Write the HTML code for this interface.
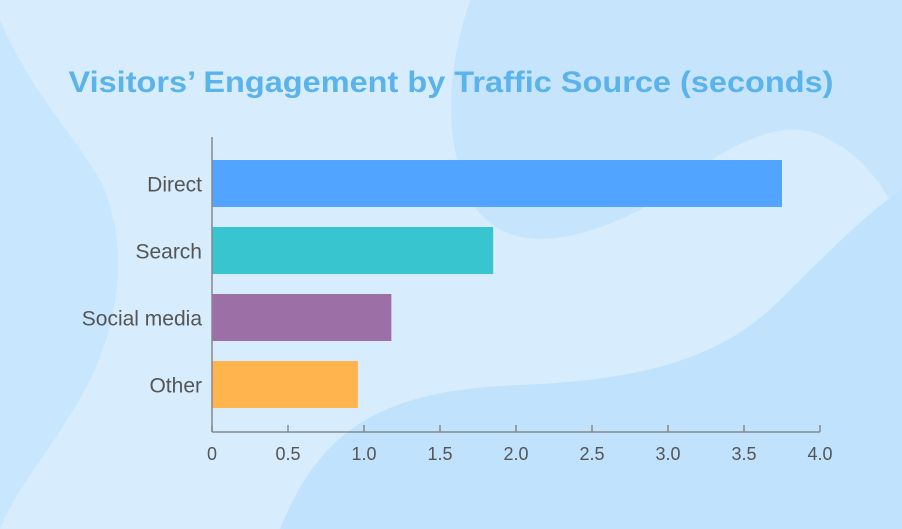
<!DOCTYPE html>
<html><head><meta charset="utf-8"><style>
html,body{margin:0;padding:0;width:902px;height:529px;overflow:hidden;background:#d7edfd}
svg{display:block;font-family:"Liberation Sans",sans-serif}
</style></head><body>
<svg id="chart" width="902" height="529" viewBox="0 0 902 529">
<g>
<path d="M0,20 C30,90 70,130 100,180 C130,240 120,320 90,380 C60,440 20,480 0,529 Z" fill="#c8e6fd"/>
<path d="M470,0 C450,60 440,130 470,200 C500,250 560,250 640,210 C720,150 780,110 830,140 C870,160 890,200 902,220 L902,0 Z" fill="#c6e5fd"/>
<path d="M280,529 C320,430 380,390 520,385 C640,380 720,360 780,300 C830,250 870,210 902,190 L902,529 Z" fill="#c0e2fd"/>
</g>
<text x="451" y="92" text-anchor="middle" font-size="30" font-weight="bold" fill="#5ab3ea" textLength="765" lengthAdjust="spacingAndGlyphs">Visitors’ Engagement by Traffic Source (seconds)</text>
<g id="plot"></g>
</svg>
<script>
const categories = ["Direct", "Search", "Social media", "Other"];
const values = [3.75, 1.85, 1.18, 0.96];
const colors = ["#51a4ff", "#38c5cf", "#9c70a6", "#ffb44d"];
const ticks = [0, 0.5, 1.0, 1.5, 2.0, 2.5, 3.0, 3.5, 4.0];
const tickLabels = ["0", "0.5", "1.0", "1.5", "2.0", "2.5", "3.0", "3.5", "4.0"];

const NS = "http://www.w3.org/2000/svg";
const plotG = document.getElementById("plot");
const x0 = 212, x1 = 820, axisY = 432, yTop = 137;
const xScale = v => x0 + (v / 4) * (x1 - x0);
const bandStart = 160, bandStep = 67, barH = 47;
const yScale = i => bandStart + i * bandStep;
function mk(tag, attrs) { const e = document.createElementNS(NS, tag); for (const k in attrs) e.setAttribute(k, attrs[k]); plotG.appendChild(e); return e; }

categories.forEach((c, i) => {
  const r = mk("rect", { x: x0, y: yScale(i), width: xScale(values[i]) - x0, height: barH, fill: colors[i] });
  
  
  const t = mk("text", { x: 202, y: yScale(i) + barH / 2 + 8, "text-anchor": "end", "font-size": "21", fill: "#555" });
  t.textContent = c;
  
  
});
const ya = mk("line", { x1: x0, y1: yTop, x2: x0, y2: axisY, stroke: "#888", "stroke-width": 1.5 });


const xa = mk("line", { x1: x0, y1: axisY, x2: x1, y2: axisY, stroke: "#888", "stroke-width": 1.5 });


ticks.forEach((v, i) => {
  const tk = mk("line", { x1: xScale(v), y1: axisY - 7, x2: xScale(v), y2: axisY, stroke: "#888", "stroke-width": 1.5 });
  
  
  const t = mk("text", { x: xScale(v), y: 460, "text-anchor": "middle", "font-size": "18", fill: "#555" });
  t.textContent = tickLabels[i];
  
  
});
</script>
</body></html>
